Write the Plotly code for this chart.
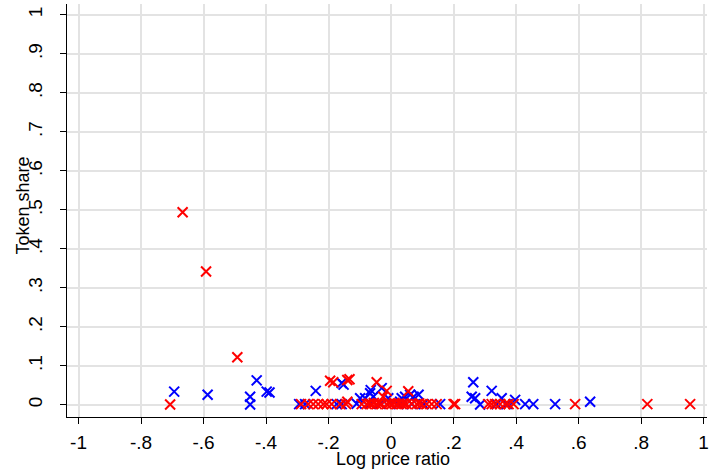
import plotly.graph_objects as go

# Blue series
blue_x = [-0.694, -0.587, -0.451, -0.451, -0.430, -0.398, -0.389, -0.294, -0.275, -0.241,
          -0.174, -0.158, -0.152, -0.158, -0.110, -0.099, -0.083, -0.067, -0.065, -0.057,
          -0.067, -0.035, -0.030, -0.009, 0.024, 0.029, 0.034, 0.045, 0.061, 0.066,
          0.072, 0.088, 0.104, 0.157, 0.263, 0.258, 0.269, 0.285, 0.322, 0.338,
          0.354, 0.370, 0.397, 0.429, 0.455, 0.525, 0.637]
blue_y = [0.034, 0.026, 0.021, 0.001, 0.063, 0.034, 0.032, 0.002, 0.002, 0.036,
          0.002, 0.056, 0.052, 0.002, 0.003, 0.017, 0.017, 0.030, 0.038, 0.021,
          0.003, 0.003, 0.043, 0.017, 0.002, 0.008, 0.017, 0.021, 0.026, 0.002,
          0.021, 0.026, 0.002, 0.002, 0.058, 0.021, 0.017, 0.001, 0.036, 0.002,
          0.017, 0.002, 0.013, 0.002, 0.002, 0.002, 0.008]

# Red series
red_x = [-0.707, -0.667, -0.592, -0.492, -0.288, -0.265, -0.249, -0.233, -0.217, -0.206,
         -0.190, -0.195, -0.185, -0.140, -0.133, -0.163, -0.144, -0.140, -0.094, -0.078,
         -0.070, -0.062, -0.055, -0.046, -0.046, -0.038, -0.030, -0.025, -0.014, -0.014,
         -0.005, 0.002, 0.010, 0.018, 0.026, 0.034, 0.042, 0.050, 0.055, 0.066,
         0.082, 0.090, 0.098, 0.114, 0.130, 0.146, 0.200, 0.205, 0.311, 0.322,
         0.333, 0.349, 0.365, 0.376, 0.392, 0.589, 0.820, 0.957]
red_y = [0.001, 0.494, 0.342, 0.122, 0.002, 0.002, 0.002, 0.002, 0.002, 0.002,
         0.002, 0.062, 0.058, 0.064, 0.066, 0.002, 0.002, 0.008, 0.002, 0.002,
         0.004, 0.002, 0.005, 0.058, 0.002, 0.004, 0.002, 0.021, 0.036, 0.002,
         0.004, 0.002, 0.005, 0.002, 0.004, 0.002, 0.003, 0.002, 0.035, 0.003,
         0.002, 0.004, 0.002, 0.002, 0.002, 0.002, 0.002, 0.002, 0.002, 0.002,
         0.002, 0.002, 0.002, 0.002, 0.002, 0.002, 0.002, 0.002]

x_ticks = [-1, -0.8, -0.6, -0.4, -0.2, 0, 0.2, 0.4, 0.6, 0.8, 1]
x_ticklabels = ["-1", "-.8", "-.6", "-.4", "-.2", "0", ".2", ".4", ".6", ".8", "1"]
y_ticks = [0, 0.1, 0.2, 0.3, 0.4, 0.5, 0.6, 0.7, 0.8, 0.9, 1]
y_ticklabels = ["0", ".1", ".2", ".3", ".4", ".5", ".6", ".7", ".8", ".9", "1"]

fig = go.Figure()
for xs, ys, col in [(blue_x, blue_y, "#0000ff"), (red_x, red_y, "#ff0000")]:
    fig.add_trace(go.Scatter(
        x=xs, y=ys, mode="markers", showlegend=False, cliponaxis=False,
        marker=dict(symbol="x-thin", size=10, color=col,
                    line=dict(width=2, color=col)),
    ))

font = "Liberation Sans, Arial, sans-serif"
fig.update_layout(
    width=709, height=476,
    margin=dict(l=67, r=2, t=4, b=59),
    paper_bgcolor="white", plot_bgcolor="white",
    font=dict(family=font, color="black", size=18),
    annotations=[
        dict(text="Log price ratio", xref="paper", yref="paper", x=0.5086, y=-0.1005,
             xanchor="center", yanchor="middle", showarrow=False, font=dict(size=18)),
        dict(text="Token share", xref="paper", yref="paper", x=-0.068, y=0.5133,
             xanchor="center", yanchor="middle", textangle=-90, showarrow=False,
             font=dict(size=18)),
    ],
)
fig.update_xaxes(
    range=[-1.037, 1.011], tickvals=x_ticks, ticktext=x_ticklabels,
    showgrid=True, gridcolor="#e3e3e3", gridwidth=1.5, zeroline=False,
    showline=True, linecolor="black", linewidth=1,
    ticks="outside", ticklen=6, tickcolor="black", ticklabelstandoff=2,
    tickfont=dict(size=19), automargin=False,
)
fig.update_yaxes(
    range=[-0.031, 1.028], tickvals=y_ticks, ticktext=y_ticklabels,
    showgrid=True, gridcolor="#e3e3e3", gridwidth=1.5, zeroline=False,
    showline=True, linecolor="black", linewidth=1,
    ticks="outside", ticklen=6, tickcolor="black", ticklabelstandoff=10,
    tickangle=-90, tickfont=dict(size=19), automargin=False,
)

fig.write_html(
    "out.html",
    config={"displayModeBar": False},
    post_script="document.body.style.margin='0';document.body.style.padding='0';",
)
